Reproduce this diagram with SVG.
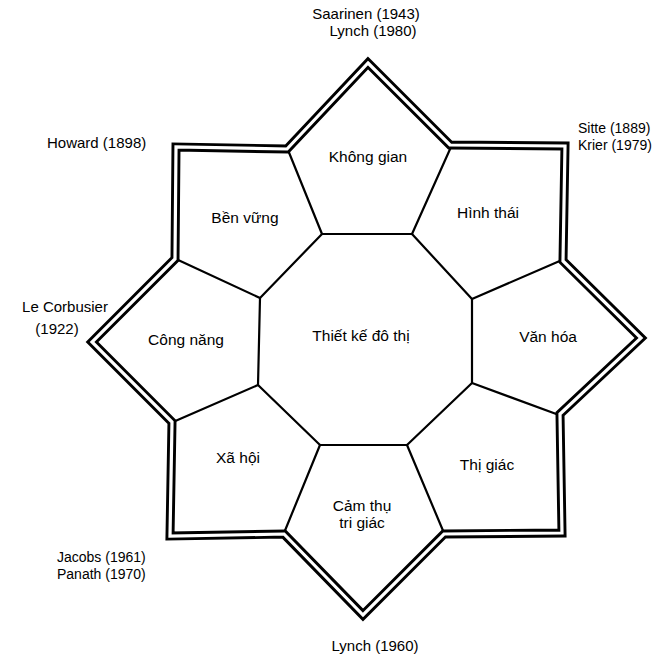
<svg xmlns="http://www.w3.org/2000/svg" width="666" height="660" viewBox="0 0 666 660">
<style>
.lbl{font-family:"Liberation Sans",Arial,sans-serif;font-size:15px;fill:#000}
.sm{font-size:14px}
.in{font-family:"Liberation Sans",Arial,sans-serif;font-size:15.5px;fill:#000;text-anchor:middle}
.ln{stroke:#000;stroke-width:2.2;fill:none;stroke-linecap:round;stroke-linejoin:round}
.outerB{stroke:#000;stroke-width:9;fill:none;stroke-linejoin:miter;stroke-miterlimit:10}
.outerW{stroke:#fff;stroke-width:3.2;fill:none;stroke-linejoin:miter;stroke-miterlimit:10}
</style>
<rect width="666" height="660" fill="#fff"/>
<g id="connectors">
<line class="ln" x1="322" y1="234" x2="288" y2="150"/>
<line class="ln" x1="412" y1="234" x2="451" y2="147"/>
<line class="ln" x1="472" y1="299" x2="562" y2="260"/>
<line class="ln" x1="472" y1="383" x2="559" y2="415"/>
<line class="ln" x1="407" y1="445" x2="444" y2="533"/>
<line class="ln" x1="320" y1="445" x2="284" y2="533"/>
<line class="ln" x1="258" y1="385" x2="173" y2="422"/>
<line class="ln" x1="260" y1="298" x2="176" y2="259"/>
</g>
<g id="center">
<polygon class="ln" points="322,234 412,234 472,299 472,383 407,445 320,445 258,385 260,298"/>
<text class="in" x="361" y="341">Thiết kế đô thị</text>
</g>
<g id="star-outline">
<path class="outerB" d="M368,63 L450,145 L565,146 L563,261 L641,338 L560,414 L562,533 L444,534 L363,615 L284,534 L170,536 L172,422 L92,342 L175,259 L176,147 L287,149 Z"/>
<path class="outerW" d="M368,63 L450,145 L565,146 L563,261 L641,338 L560,414 L562,533 L444,534 L363,615 L284,534 L170,536 L172,422 L92,342 L175,259 L176,147 L287,149 Z"/>
</g>
<g id="khong-gian"><text class="in" x="368" y="162">Không gian</text></g>
<g id="hinh-thai"><text class="in" x="488" y="218">Hình thái</text></g>
<g id="van-hoa"><text class="in" x="548" y="342">Văn hóa</text></g>
<g id="thi-giac"><text class="in" x="487" y="470">Thị giác</text></g>
<g id="cam-thu"><text class="in sm" x="362" y="511">Cảm thụ</text><text class="in sm" x="362" y="528">tri giác</text></g>
<g id="xa-hoi"><text class="in" x="238" y="463">Xã hội</text></g>
<g id="cong-nang"><text class="in" x="186" y="345">Công năng</text></g>
<g id="ben-vung"><text class="in" x="245" y="223">Bền vững</text></g>
<g id="authors">
<text class="lbl" x="366" y="19" text-anchor="middle">Saarinen (1943)</text>
<text class="lbl" x="373" y="36" text-anchor="middle">Lynch (1980)</text>
<text class="lbl" x="47" y="148">Howard (1898)</text>
<text class="lbl sm" x="578" y="133">Sitte (1889)</text>
<text class="lbl sm" x="578" y="150">Krier (1979)</text>
<text class="lbl" x="65" y="312" text-anchor="middle">Le Corbusier</text>
<text class="lbl" x="57" y="334" text-anchor="middle">(1922)</text>
<text class="lbl sm" x="57" y="562">Jacobs (1961)</text>
<text class="lbl sm" x="57" y="579">Panath (1970)</text>
<text class="lbl" x="375" y="651" text-anchor="middle">Lynch (1960)</text>
</g>
</svg>
